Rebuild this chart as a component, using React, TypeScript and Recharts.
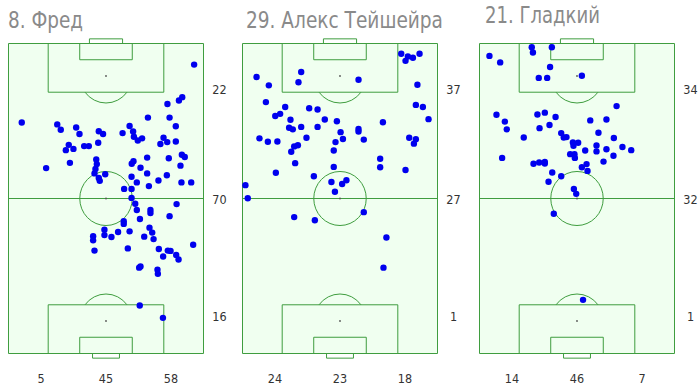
import React from "react";
import {
  ScatterChart,
  Scatter,
  XAxis,
  YAxis,
  CartesianGrid,
  ReferenceArea,
  ReferenceLine,
  ReferenceDot,
} from "recharts";

// Touch positions as [across, along]:
// across 0 = left touchline, 100 = right touchline
// along 0 = own goal line, 100 = opponent's goal line
const fredTouches: [number, number][] = [
  [95.2, 93.2], [81.5, 80.5], [87.4, 81.6], [89.1, 82.7], [6.8, 74.5], [71.5, 76.1],
  [82.6, 76.1], [25.0, 73.9], [26.8, 72.2], [34.7, 72.9], [36.4, 70.8], [46.3, 71.7],
  [48.5, 70.8], [62.1, 73.4], [58.5, 71.1], [63.9, 71.6], [64.3, 69.9], [66.3, 68.7],
  [68.5, 69.4], [85.8, 73.3], [79.5, 69.6], [77.9, 67.6], [81.4, 68.2], [85.8, 68.4],
  [30.9, 67.3], [29.4, 65.6], [33.3, 66.0], [38.8, 66.9], [41.2, 66.9], [46.0, 68.0],
  [71.1, 63.2], [82.2, 63.0], [88.9, 64.1], [90.4, 63.4], [88.2, 60.6], [19.3, 59.8],
  [31.5, 61.5], [45.0, 62.6], [45.3, 61.1], [44.6, 59.5], [44.1, 58.1], [49.6, 57.8],
  [46.3, 56.6], [46.8, 55.7], [64.1, 62.0], [63.2, 61.2], [67.7, 59.9], [71.1, 58.1],
  [63.1, 57.0], [65.8, 55.2], [72.0, 54.0], [76.9, 55.8], [81.2, 57.5], [88.7, 55.2],
  [93.7, 55.2], [59.3, 53.1], [63.1, 53.1], [63.1, 50.2], [65.0, 48.3], [65.8, 46.3],
  [72.8, 46.3], [72.8, 45.3], [86.2, 48.2], [67.4, 43.4], [82.6, 44.3], [59.1, 42.7],
  [59.1, 41.8], [49.2, 39.9], [49.2, 38.2], [56.2, 39.2], [62.1, 39.4], [43.4, 37.8],
  [43.4, 36.5], [52.8, 37.6], [72.3, 40.6], [73.7, 39.0], [69.6, 37.7], [74.4, 36.9],
  [94.7, 35.1], [44.1, 33.2], [61.2, 33.9], [77.1, 33.7], [81.7, 33.2], [83.1, 33.1],
  [86.0, 31.8], [87.2, 30.3], [79.3, 31.3], [67.0, 27.7], [67.7, 28.1], [76.4, 27.0],
  [76.6, 25.7], [67.3, 15.5], [79.2, 11.5],
];
const fredThirds = [16, 70, 22]; // own, middle, final third
const fredChannels = [5, 45, 58]; // left, centre, right

const teixeiraTouches: [number, number][] = [
  [81.4, 96.7], [84.8, 95.8], [83.6, 94.4], [87.4, 95.4], [90.8, 96.7], [30.1, 90.8],
  [28.7, 87.5], [7.2, 89.2], [13.5, 86.5], [59.5, 88.3], [89.7, 86.7], [12.0, 81.1],
  [21.9, 79.5], [19.3, 77.3], [16.8, 76.6], [34.2, 79.1], [38.5, 78.7], [24.6, 75.4],
  [42.2, 75.5], [48.4, 74.9], [88.9, 80.2], [92.5, 79.5], [95.4, 75.6], [72.0, 74.6],
  [23.9, 72.8], [25.8, 72.3], [30.1, 73.1], [38.5, 73.1], [50.3, 71.4], [59.5, 72.4],
  [59.5, 71.6], [8.7, 69.4], [13.0, 68.3], [17.9, 68.4], [32.8, 69.6], [51.5, 69.2],
  [47.7, 68.2], [62.2, 69.0], [26.5, 66.8], [28.4, 67.2], [25.0, 65.1], [46.8, 65.5],
  [85.5, 69.6], [88.9, 69.1], [87.9, 67.7], [27.0, 61.4], [70.6, 62.8], [70.6, 60.1],
  [46.8, 60.2], [83.6, 59.2], [17.1, 58.3], [36.6, 57.2], [1.5, 54.3], [45.6, 55.3],
  [51.1, 54.7], [53.3, 55.9], [47.4, 52.2], [2.7, 50.1], [26.5, 44.0], [37.1, 43.0],
  [62.2, 45.6], [73.8, 37.4], [72.3, 27.7],
];
const teixeiraThirds = [1, 27, 37];
const teixeiraChannels = [24, 23, 18];

const gladkiyTouches: [number, number][] = [
  [26.8, 98.8], [27.4, 97.1], [37.1, 98.8], [5.1, 96.0], [10.6, 93.9], [36.2, 92.4],
  [30.4, 88.9], [34.7, 88.9], [52.5, 89.6], [70.3, 79.8], [8.7, 77.0], [13.0, 74.8],
  [14.0, 72.3], [29.7, 77.1], [33.5, 77.7], [39.0, 76.3], [30.8, 72.7], [35.9, 73.7],
  [22.7, 69.7], [56.8, 75.2], [65.1, 75.5], [41.9, 71.1], [43.2, 69.7], [44.6, 69.8],
  [61.0, 71.2], [68.9, 69.5], [47.9, 68.1], [50.6, 68.0], [48.2, 67.0], [54.2, 65.5],
  [60.0, 67.1], [60.0, 65.2], [65.1, 65.9], [73.3, 66.6], [77.8, 65.6], [68.7, 63.8],
  [63.6, 61.9], [11.6, 63.1], [46.5, 64.3], [48.7, 64.3], [48.9, 63.1], [27.7, 61.2],
  [30.6, 61.6], [33.5, 61.8], [33.5, 61.3], [52.5, 60.1], [54.9, 61.1], [55.4, 58.9],
  [37.3, 58.4], [41.9, 57.2], [35.4, 55.4], [48.4, 53.1], [49.6, 51.5], [38.1, 45.1],
  [53.1, 17.3],
];
const gladkiyThirds = [1, 32, 34];
const gladkiyChannels = [14, 46, 7];

const players = [
  { title: "8. Фред", touches: fredTouches, thirds: fredThirds, channels: fredChannels },
  { title: "29. Алекс Тейшейра", touches: teixeiraTouches, thirds: teixeiraThirds, channels: teixeiraChannels },
  { title: "21. Гладкий", touches: gladkiyTouches, thirds: gladkiyThirds, channels: gladkiyChannels },
];

const THIRD_TICKS = [12.5, 50, 85.5];
const CHANNEL_TICKS = [100 / 6, 50, 500 / 6];

// panel placement on the page
const panels = [
  { left: 0, plotLeft: 8.5, titleX: 8, titleY: 28, titleW: 75 },
  { left: 235, plotLeft: 7.5, titleX: 246, titleY: 28, titleW: 197 },
  { left: 470, plotLeft: 9.5, titleX: 485, titleY: 23, titleW: 115 },
];

const CHART_W = 230;
const CHART_H = 390;
const PLOT_W = 195;
const PLOT_TOP = 43.5;
const AXIS_H = 36.5;

const PITCH_FILL = "#f0fff0";
const LINE = "#3f9d3f";
const DOT = "#0000ee";
const TICK_FONT = "'Liberation Sans Narrow', 'DejaVu Sans Condensed', sans-serif";

// pitch is 68 x 105 m, mapped onto 0..100 in both directions
const ax = (m: number) => (m / 68) * 100;
const al = (m: number) => (m / 105) * 100;
const BOX_HW = ax(20.16);
const BOX_D = al(16.5);
const SIX_HW = ax(9.16);
const SIX_D = al(5.5);
const SPOT = al(11);
const RX = ax(9.15);
const RY = al(9.15);
const CUT = 5.5 / 9.15;

function ellipseShape(props: any) {
  const { x, y, width, height } = props;
  return (
    <ellipse cx={x + width / 2} cy={y + height / 2} rx={width / 2} ry={height / 2} fill="none" stroke={LINE} strokeWidth={1} />
  );
}

// arc of the D outside the penalty box; up = bulges towards the top of the screen
function arcShape(up: boolean) {
  return (props: any) => {
    const { x, y, width, height } = props;
    const rx = width / 2;
    const ry = height / 2;
    const cx = x + rx;
    const cy = y + ry;
    const dy = ry * CUT * (up ? -1 : 1);
    const dx = rx * Math.sqrt(1 - CUT * CUT);
    return (
      <path
        d={`M${cx - dx},${cy + dy} A${rx},${ry} 0 0 ${up ? 1 : 0} ${cx + dx},${cy + dy}`}
        fill="none"
        stroke={LINE}
        strokeWidth={1}
      />
    );
  };
}

const dotShape = (p: any) => <circle cx={p.cx} cy={p.cy} r={3.2} fill={DOT} />;

function PitchChart({ touches, thirds, channels, plotLeft }: any) {
  const data = touches.map(([x, y]: [number, number]) => ({ x, y }));
  const yAxisW = CHART_W - plotLeft - PLOT_W;
  const line = { stroke: LINE, strokeWidth: 1, fill: "none" };
  return (
    <ScatterChart
      width={CHART_W}
      height={CHART_H}
      margin={{ top: PLOT_TOP, right: 0, bottom: 0, left: plotLeft }}
    >
      <CartesianGrid horizontal={false} vertical={false} fill={PITCH_FILL} />
      <XAxis
        type="number"
        dataKey="x"
        domain={[0, 100]}
        ticks={CHANNEL_TICKS}
        interval={0}
        height={AXIS_H}
        axisLine={false}
        tickLine={false}
        tickSize={0}
        tickMargin={0}
        tick={(t: any) => (
          <text x={t.x} y={t.y + 25.5} dy="0.35em" textAnchor="middle" fontSize={12.5} fill="#333" fontFamily={TICK_FONT}>
            {channels[t.index]}
          </text>
        )}
      />
      <YAxis
        type="number"
        dataKey="y"
        orientation="right"
        domain={[0, 100]}
        ticks={THIRD_TICKS}
        interval={0}
        width={yAxisW}
        axisLine={false}
        tickLine={false}
        tickSize={0}
        tickMargin={0}
        tick={(t: any) => (
          <text x={t.x + 16} y={t.y + 1.5} dy="0.35em" textAnchor="middle" fontSize={12.5} fill="#333" fontFamily={TICK_FONT}>
            {thirds[t.index]}
          </text>
        )}
      />

      {/* touchlines, halfway line, boxes */}
      <ReferenceArea x1={0} x2={100} y1={0} y2={100} {...line} fillOpacity={0} />
      <ReferenceLine y={50} stroke={LINE} strokeWidth={1} />
      <ReferenceArea x1={50 - BOX_HW} x2={50 + BOX_HW} y1={100 - BOX_D} y2={100} {...line} fillOpacity={0} />
      <ReferenceArea x1={50 - SIX_HW} x2={50 + SIX_HW} y1={100 - SIX_D} y2={100} {...line} fillOpacity={0} />
      <ReferenceArea x1={41.5} x2={58.5} y1={100} y2={101.5} {...line} fillOpacity={0} ifOverflow="visible" />
      <ReferenceArea x1={50 - BOX_HW} x2={50 + BOX_HW} y1={0} y2={BOX_D} {...line} fillOpacity={0} />
      <ReferenceArea x1={50 - SIX_HW} x2={50 + SIX_HW} y1={0} y2={SIX_D} {...line} fillOpacity={0} />
      <ReferenceArea x1={43.1} x2={56.9} y1={-1.5} y2={0} {...line} fillOpacity={0} ifOverflow="visible" />

      {/* centre circle and the two D arcs */}
      <ReferenceArea x1={50 - RX} x2={50 + RX} y1={50 - RY} y2={50 + RY} shape={ellipseShape} />
      <ReferenceArea x1={50 - RX} x2={50 + RX} y1={100 - SPOT - RY} y2={100 - SPOT + RY} shape={arcShape(false)} />
      <ReferenceArea x1={50 - RX} x2={50 + RX} y1={SPOT - RY} y2={SPOT + RY} shape={arcShape(true)} />

      <ReferenceDot x={50} y={100 - SPOT} r={0.9} fill="#555" stroke="none" />
      <ReferenceDot x={50} y={50} r={0.9} fill="#555" stroke="none" />
      <ReferenceDot x={50} y={SPOT} r={0.9} fill="#555" stroke="none" />

      <Scatter data={data} shape={dotShape} isAnimationActive={false} />
    </ScatterChart>
  );
}

export default function App() {
  return (
    <div style={{ position: "absolute", left: 0, top: 0, width: 700, height: 390, background: "#fff", overflow: "hidden" }}>
      <svg width={700} height={390} style={{ position: "absolute", left: 0, top: 0 }}>
        {players.map((p, i) => (
          <text
            key={p.title}
            x={panels[i].titleX}
            y={panels[i].titleY}
            textLength={panels[i].titleW}
            lengthAdjust="spacingAndGlyphs"
            fontSize={23}
            fill="#8a8a8a"
            fontFamily="'Liberation Sans Narrow', 'DejaVu Sans Condensed', sans-serif"
          >
            {p.title}
          </text>
        ))}
      </svg>
      {players.map((p, i) => (
        <div key={p.title} style={{ position: "absolute", left: panels[i].left, top: 0 }}>
          <PitchChart touches={p.touches} thirds={p.thirds} channels={p.channels} plotLeft={panels[i].plotLeft} />
        </div>
      ))}
    </div>
  );
}
